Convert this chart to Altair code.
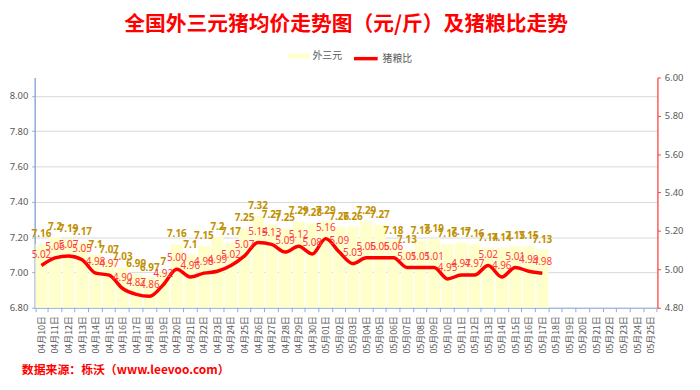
import altair as alt
import pandas as pd

# ---------------- data ----------------
dates = (
    [f"04月{d:02d}日" for d in range(10, 31)]
    + [f"05月{d:02d}日" for d in range(1, 26)]
)
price_dates = dates[:38]
pork_price = [7.16, 7.2, 7.19, 7.17, 7.1, 7.07, 7.03, 6.99, 6.97, 7, 7.16,
              7.1, 7.15, 7.2, 7.17, 7.25, 7.32, 7.27, 7.25, 7.29, 7.28,
              7.29, 7.26, 7.26, 7.29, 7.27, 7.18, 7.13, 7.18, 7.19, 7.16,
              7.17, 7.16, 7.14, 7.14, 7.15, 7.15, 7.13]
ratio = [5.02, 5.06, 5.07, 5.05, 4.98, 4.97, 4.90, 4.87, 4.86, 4.92, 5.00,
         4.96, 4.98, 4.99, 5.02, 5.07, 5.14, 5.13, 5.09, 5.12, 5.08,
         5.16, 5.09, 5.03, 5.06, 5.06, 5.06, 5.01, 5.01, 5.01, 4.95,
         4.97, 4.97, 5.02, 4.96, 5.01, 4.99, 4.98]
series_names = ["外三元", "猪粮比"]
left_ticks = [6.8, 7.0, 7.2, 7.4, 7.6, 7.8, 8.0]
right_ticks = [4.8, 5.0, 5.2, 5.4, 5.6, 5.8, 6.0]
title_text = "全国外三元猪均价走势图（元/斤）及猪粮比走势"
source_text = "数据来源：栎沃（www.leevoo.com）"

bar_df = pd.DataFrame({"date": price_dates, "price": pork_price,
                       "series": series_names[0]})
line_df = pd.DataFrame({"date": price_dates, "ratio": ratio,
                        "series": series_names[1]})
src_df = pd.DataFrame({"t": [source_text]})

CJK = "Noto Sans CJK SC"
GRAY = "#595959"
BLUE = "#8FAADC"

x_enc = alt.X(
    "date:N",
    sort=dates,
    scale=alt.Scale(domain=dates, paddingInner=0.1, paddingOuter=0.05),
    axis=alt.Axis(title=None, labelAngle=270, tickBand="extent",
                  domainColor=BLUE, tickColor=BLUE, tickSize=4,
                  labelColor=GRAY, labelFontSize=9, labelFont=CJK,
                  labelPadding=4),
)

y_left = alt.Y(
    "price:Q",
    scale=alt.Scale(domain=[6.8, 8.104], nice=False, zero=False),
    axis=alt.Axis(title=None, values=left_ticks, format=".2f", grid=True,
                  gridColor="#D9D9D9", domainColor=BLUE, domainWidth=1.5,
                  tickColor=BLUE, tickSize=3, labelColor=GRAY,
                  labelFontSize=9.5, labelFont="Noto Sans", labelPadding=4),
)
y_right = alt.Y(
    "ratio:Q",
    scale=alt.Scale(domain=[4.8, 6.0], nice=False, zero=False),
    axis=alt.Axis(title=None, orient="right", values=right_ticks,
                  format=".2f", grid=False, domainColor="#FF5B5B",
                  domainWidth=1.5, tickColor="#FF3333", tickSize=3,
                  labelColor=GRAY, labelFontSize=9.5, labelFont="Noto Sans",
                  labelPadding=4),
)

bars = alt.Chart(bar_df).mark_bar().encode(
    x=x_enc,
    y=y_left,
    y2=alt.datum(6.8),
    fill=alt.Fill(
        "series:N",
        scale=alt.Scale(domain=[series_names[0]], range=["#FFFFCC"]),
        legend=alt.Legend(title=None, orient="none", legendX=257,
                          legendY=-32, labelFontSize=10, labelColor=GRAY,
                          labelFont=CJK, symbolType="M-1,-0.25H1V0.25H-1Z",
                          symbolSize=441, symbolStrokeWidth=0,
                          labelOffset=3),
    ),
)
bar_text = alt.Chart(bar_df).mark_text(
    baseline="bottom", dy=-5, fontSize=10, fontWeight="bold",
    color="#BF9000", font="Noto Sans",
).encode(x=x_enc, y=y_left, text=alt.Text("price:Q", format=".2~f"))

source = alt.Chart(src_df).mark_text(
    align="left", baseline="middle", fontSize=12, fontWeight="bold",
    color="#FF0000", font=CJK,
).encode(text="t:N", x=alt.value(-13), y=alt.value(296))

line = alt.Chart(line_df).mark_line(
    strokeWidth=3.5, interpolate="monotone"
).encode(
    x=x_enc,
    y=y_right,
    stroke=alt.Stroke(
        "series:N",
        scale=alt.Scale(domain=[series_names[1]], range=["#FF0000"]),
        legend=alt.Legend(title=None, orient="none", legendX=321,
                          legendY=-33, labelFontSize=10, labelColor=GRAY,
                          labelFont=CJK, symbolType="stroke",
                          symbolSize=576, symbolStrokeWidth=3.5,
                          labelOffset=3),
    ),
)
line_text = alt.Chart(line_df).mark_text(
    baseline="bottom", dy=-6, fontSize=10, color="#FF3B3B", font="Noto Sans",
).encode(x=x_enc, y=y_right, text=alt.Text("ratio:Q", format=".2f"))

left_layer = alt.layer(bars, bar_text, source)
right_layer = alt.layer(line, line_text)

chart = alt.layer(left_layer, right_layer).resolve_scale(
    y="independent"
).properties(
    width=630,
    height=233,
    title=alt.Title(title_text, color="#FF0000", fontSize=21,
                    fontWeight="bold", font=CJK, anchor="middle",
                    frame="group", offset=10),
    autosize=alt.AutoSizeParams(type="none"),
    padding={"left": 27, "top": 68, "right": 35, "bottom": 81},
).configure_view(stroke=None)

chart.save("out.html", embed_options={"renderer": "svg", "actions": False})
